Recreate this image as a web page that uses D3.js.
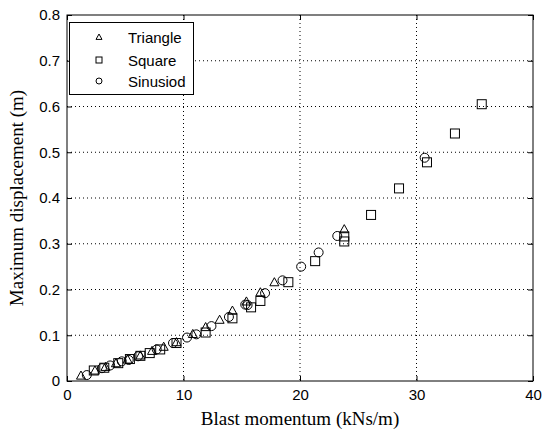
<!DOCTYPE html>
<html>
<head>
<meta charset="utf-8">
<script src="https://cdn.jsdelivr.net/npm/d3@7"></script>
<style>
  html, body { margin: 0; padding: 0; background: #fff; }
  svg { display: block; }
</style>
</head>
<body>
<svg id="chart" width="542" height="432"></svg>
<script>
// Blast momentum (kNs/m) vs maximum displacement (m) for three pulse shapes
const triangleX = [1.2, 2.4, 3.3, 4.2, 5.2, 6.3, 7.3, 8.3, 9.4, 10.8, 11.9, 13.1, 14.2, 15.4, 16.6, 17.8, 23.8];
const triangleY = [0.012, 0.023, 0.031, 0.039, 0.047, 0.056, 0.066, 0.075, 0.085, 0.103, 0.118, 0.134, 0.154, 0.174, 0.194, 0.216, 0.332];

const squareX = [2.3, 3.2, 4.4, 5.4, 6.3, 7.1, 8.0, 9.4, 11.9, 14.2, 15.8, 16.6, 19.0, 21.3, 23.8, 23.8, 26.1, 28.5, 30.9, 33.3, 35.6];
const squareY = [0.023, 0.029, 0.039, 0.048, 0.055, 0.061, 0.069, 0.083, 0.106, 0.137, 0.161, 0.175, 0.216, 0.262, 0.305, 0.316, 0.363, 0.421, 0.478, 0.541, 0.605];

const sineX = [1.7, 3.0, 3.7, 4.7, 5.3, 6.1, 7.7, 9.1, 10.3, 11.1, 12.4, 13.9, 15.3, 15.5, 17.0, 18.5, 20.1, 21.6, 23.2, 30.7];
const sineY = [0.013, 0.028, 0.034, 0.043, 0.046, 0.054, 0.069, 0.083, 0.095, 0.102, 0.120, 0.140, 0.167, 0.166, 0.192, 0.220, 0.250, 0.281, 0.317, 0.488];

const seriesNames = ["Triangle", "Square", "Sinusiod"];
const xTicks = [0, 10, 20, 30, 40];
const yTicks = [0, 0.1, 0.2, 0.3, 0.4, 0.5, 0.6, 0.7, 0.8];

const svg = d3.select("#chart");
const margin = { left: 67, right: 9, top: 15, bottom: 51 };
const W = 542, H = 432;
const x = d3.scaleLinear().domain([0, 40]).range([margin.left, W - margin.right]);
const y = d3.scaleLinear().domain([0, 0.8]).range([H - margin.bottom, margin.top]);

const tickFont = "'Liberation Sans', Arial, sans-serif";
const titleFont = "'Liberation Serif', 'Times New Roman', serif";

// dotted grid
const grid = svg.append("g");
grid.selectAll("line.gx").data(xTicks.slice(1, -1)).join("line")
  .attr("x1", d => x(d)).attr("x2", d => x(d))
  .attr("y1", y(0.8)).attr("y2", y(0))
  .attr("stroke", "#000").attr("stroke-width", 1).attr("stroke-dasharray", "1,3");
grid.selectAll("line.gy").data(yTicks.slice(1, -1)).join("line")
  .attr("y1", d => y(d)).attr("y2", d => y(d))
  .attr("x1", x(0)).attr("x2", x(40))
  .attr("stroke", "#000").attr("stroke-width", 1).attr("stroke-dasharray", "1,3");

// axes with inward ticks on all four sides
function styleAxis(g, hideText) {
  g.select(".domain").remove();
  g.selectAll(".tick line").attr("stroke", "#000");
  g.selectAll("text").attr("font-family", tickFont).attr("font-size", 15).attr("fill", "#000");
  if (hideText) g.selectAll("text").remove();
}
svg.append("g").attr("transform", `translate(0,${y(0)})`)
  .call(d3.axisBottom(x).tickValues(xTicks).tickFormat(d3.format("d")).tickSizeInner(-5).tickPadding(8))
  .call(g => styleAxis(g, false));
svg.append("g").attr("transform", `translate(0,${y(0.8)})`)
  .call(d3.axisTop(x).tickValues(xTicks).tickSizeInner(-5))
  .call(g => styleAxis(g, true));
svg.append("g").attr("transform", `translate(${x(0)},0)`)
  .call(d3.axisLeft(y).tickValues(yTicks).tickFormat(d => d === 0 ? "0" : d3.format(".1f")(d)).tickSizeInner(-5).tickPadding(7))
  .call(g => styleAxis(g, false));
svg.append("g").attr("transform", `translate(${x(40)},0)`)
  .call(d3.axisRight(y).tickValues(yTicks).tickSizeInner(-5))
  .call(g => styleAxis(g, true));

// plot frame
svg.append("rect")
  .attr("x", x(0)).attr("y", y(0.8))
  .attr("width", x(40) - x(0)).attr("height", y(0) - y(0.8))
  .attr("fill", "none").attr("stroke", "#000").attr("stroke-width", 1);

// axis titles
svg.append("text")
  .attr("x", (x(0) + x(40)) / 2).attr("y", 425)
  .attr("text-anchor", "middle")
  .attr("font-family", titleFont).attr("font-size", 19)
  .text("Blast momentum (kNs/m)");
svg.append("text")
  .attr("transform", `translate(23,${(y(0) + y(0.8)) / 2}) rotate(-90)`)
  .attr("text-anchor", "middle")
  .attr("font-family", titleFont).attr("font-size", 19)
  .text("Maximum displacement (m)");

// open markers: triangle, square, circle
function drawMarker(g, kind, cx, cy, size) {
  if (kind === 0) {
    const r = size / 2;
    g.append("path")
      .attr("d", `M${cx},${cy - r} L${cx + r},${cy + r * 0.8} L${cx - r},${cy + r * 0.8} Z`)
      .attr("fill", "none").attr("stroke", "#000").attr("stroke-width", 1);
  } else if (kind === 1) {
    g.append("rect")
      .attr("x", cx - size / 2).attr("y", cy - size / 2)
      .attr("width", size).attr("height", size)
      .attr("fill", "none").attr("stroke", "#000").attr("stroke-width", 1);
  } else {
    g.append("circle")
      .attr("cx", cx).attr("cy", cy).attr("r", size / 2)
      .attr("fill", "none").attr("stroke", "#000").attr("stroke-width", 1);
  }
}

const pts = svg.append("g");
const seriesData = [
  d3.zip(triangleX, triangleY),
  d3.zip(squareX, squareY),
  d3.zip(sineX, sineY)
];
seriesData.forEach((data, k) => {
  data.forEach(([vx, vy]) => drawMarker(pts, k, x(vx), y(vy), 9));
});

// legend
const lg = svg.append("g");
lg.append("rect")
  .attr("x", 69.5).attr("y", 22.5).attr("width", 124).attr("height", 72)
  .attr("fill", "#fff").attr("stroke", "#000").attr("stroke-width", 1);
const legendRows = [37, 60, 81];
seriesNames.forEach((name, k) => {
  drawMarker(lg, k, 99, legendRows[k], 6);
  lg.append("text")
    .attr("x", 128).attr("y", legendRows[k])
    .attr("dominant-baseline", "central")
    .attr("font-family", tickFont).attr("font-size", 15)
    .text(name);
});
</script>
</body>
</html>
